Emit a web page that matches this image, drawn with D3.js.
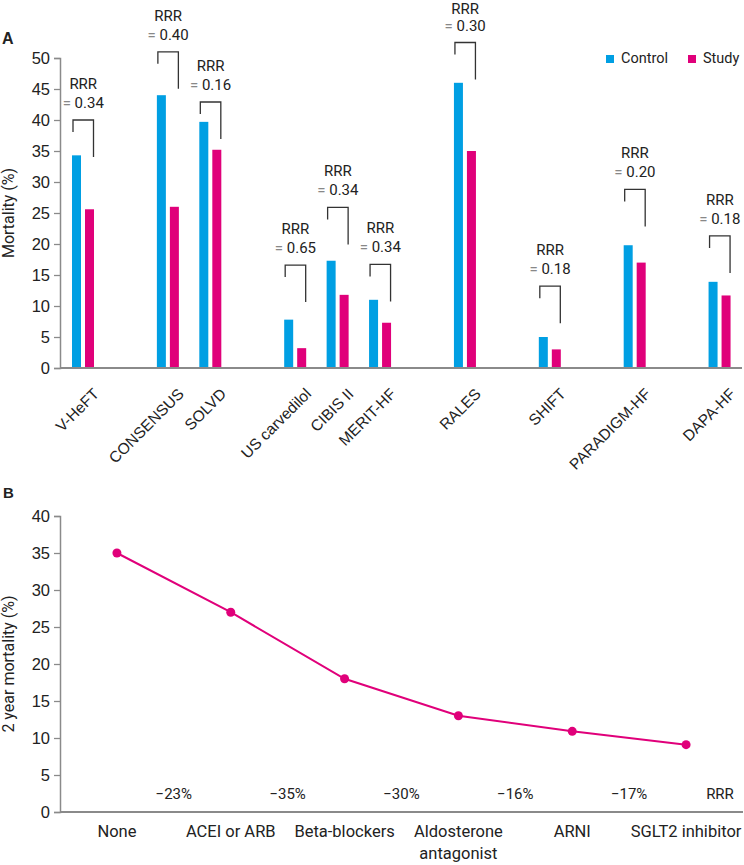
<!DOCTYPE html>
<html>
<head>
<meta charset="utf-8">
<script src="https://cdn.jsdelivr.net/npm/d3@7"></script>
<style>
  html, body { margin: 0; padding: 0; background: #fff; }
  svg { display: block; }
  text { font-family: Roboto, "Liberation Sans", sans-serif; fill: #222; }
</style>
</head>
<body>
<svg id="chart" width="744" height="865"></svg>
<script>
// ---------- Panel A data ----------
const trials = ["V-HeFT", "CONSENSUS", "SOLVD", "US carvedilol", "CIBIS II", "MERIT-HF", "RALES", "SHIFT", "PARADIGM-HF", "DAPA-HF"];
const drugClass = ["H-ISDN", "ACEI", "ACEI", "BB", "BB", "BB", "MRA", "If", "ARNI", "SGLT2"];
const controlMortality = [34.3, 44.0, 39.7, 7.8, 17.3, 11.0, 46.0, 5.0, 19.8, 13.9];
const studyMortality = [25.6, 26.0, 35.2, 3.2, 11.8, 7.3, 35.0, 3.0, 17.0, 11.7];
const rrrValues = ["0.34", "0.40", "0.16", "0.65", "0.34", "0.34", "0.30", "0.18", "0.20", "0.18"];
const bracketTop = [40.0, 51.0, 42.9, 16.6, 25.9, 16.7, 52.5, 13.2, 28.8, 21.3];
const seriesNames = ["Control", "Study"];
const yTicksA = [0, 5, 10, 15, 20, 25, 30, 35, 40, 45, 50];

// ---------- Panel B data ----------
const therapies = ["None", "ACEI or ARB", "Beta-blockers", "Aldosterone\nantagonist", "ARNI", "SGLT2 inhibitor"];
const twoYearMortality = [35, 27, 18, 13, 10.9, 9.1];
const stepRRR = ["\u221223%", "\u221235%", "\u221230%", "\u221216%", "\u221217%"];
const yTicksB = [0, 5, 10, 15, 20, 25, 30, 35, 40];

const colors = { Control: "#009FE3", Study: "#E0007A" };
const axisGray = "#8a8a8a";
const svg = d3.select("#chart");

// ================= Panel A =================
const slots = [];
trials.forEach((t, i) => {
  if (i > 0 && drugClass[i] !== drugClass[i - 1]) slots.push("gap" + i);
  slots.push(t);
});
const xA = d3.scaleBand().domain(slots).range([61, 740]).paddingInner(0).paddingOuter(0);
const xS = d3.scaleBand().domain(seriesNames).range([11, 33]).paddingInner(0.3077);
const yA = d3.scaleLinear().domain([0, 50]).range([368, 58]);

const gA = svg.append("g");

// bars
const rows = trials.map((t, i) => ({ t, i, Control: controlMortality[i], Study: studyMortality[i] }));
seriesNames.forEach(s => {
  gA.append("g").selectAll("rect").data(rows).join("rect")
    .attr("x", d => xA(d.t) + xS(s))
    .attr("width", xS.bandwidth())
    .attr("y", d => yA(d[s]))
    .attr("height", d => yA(0) - yA(d[s]))
    .attr("fill", colors[s]);
});

// brackets and RRR labels
rows.forEach(d => {
  const xl = xA(d.t) + xS("Control") + 1;
  const xr = xA(d.t) + xS("Study") + xS.bandwidth() - 0.5;
  const yt = yA(bracketTop[d.i]);
  gA.append("path")
    .attr("d", `M${xl},${yt + 12}V${yt}H${xr}V${yt + 37}`)
    .attr("fill", "none").attr("stroke", "#333").attr("stroke-width", 1.3);
  const cx = (xl + xr) / 2;
  gA.append("text").attr("x", cx).attr("y", Math.max(yt - 35, 10)).attr("text-anchor", "middle")
    .attr("dominant-baseline", "middle").style("font-size", "15px").text("RRR");
  const t2 = gA.append("text").attr("x", cx).attr("y", yt - 16).attr("text-anchor", "middle")
    .attr("dominant-baseline", "middle").style("font-size", "15px");
  t2.append("tspan").style("fill", "#888").text("= ");
  t2.append("tspan").text(rrrValues[d.i]);
});

// y axis A
const yAxisA = gA.append("g").attr("transform", "translate(60,0)")
  .call(d3.axisLeft(yA).tickValues(yTicksA).tickSize(6).tickPadding(4));
yAxisA.select(".domain").attr("stroke", axisGray).attr("stroke-width", 1.5);
yAxisA.selectAll(".tick line").attr("stroke", axisGray).attr("stroke-width", 1.3);
yAxisA.selectAll(".tick text").style("font-family", "'Liberation Sans', Arial, sans-serif")
  .style("font-size", "16.5px").attr("fill", "#222");

// x axis A
const xAxisA = gA.append("g").attr("transform", `translate(0,${yA(0)})`);
xAxisA.append("line").attr("x1", 60).attr("x2", 742).attr("stroke", axisGray).attr("stroke-width", 1.8);
rows.forEach(d => {
  const cx = xA(d.t) + 22 + 9;
  gA.append("text")
    .attr("transform", `translate(${cx},${yA(0) + 19}) rotate(-45)`)
    .attr("text-anchor", "end").attr("dominant-baseline", "hanging")
    .style("font-family", "'Liberation Sans', Arial, sans-serif")
    .style("font-size", "15.5px").text(d.t);
});

// y label A
gA.append("text").attr("transform", `translate(10,${yA(25)}) rotate(-90)`)
  .attr("text-anchor", "middle").attr("dominant-baseline", "middle")
  .style("font-size", "16px").text("Mortality (%)");

// panel label A
svg.append("text").attr("x", 2).attr("y", 44).style("font-weight", "bold")
  .style("font-family", "'Liberation Sans', Arial, sans-serif").style("font-size", "16px").text("A");

// legend
const legendX = [606, 688];
seriesNames.forEach((s, i) => {
  svg.append("rect").attr("x", legendX[i]).attr("y", 55).attr("width", 8).attr("height", 8).attr("fill", colors[s]);
  svg.append("text").attr("x", legendX[i] + 15).attr("y", 59).attr("dominant-baseline", "middle")
    .style("font-size", "14.5px").text(s);
});

// ================= Panel B =================
const xB = d3.scaleBand().domain(therapies).range([60, 743]).padding(0);
const yB = d3.scaleLinear().domain([0, 40]).range([812, 516]);
const gB = svg.append("g");
const cxB = t => xB(t) + xB.bandwidth() / 2;

const yAxisB = gB.append("g").attr("transform", "translate(60,0)")
  .call(d3.axisLeft(yB).tickValues(yTicksB).tickSize(6).tickPadding(4));
yAxisB.select(".domain").attr("stroke", axisGray).attr("stroke-width", 1.5);
yAxisB.selectAll(".tick line").attr("stroke", axisGray).attr("stroke-width", 1.3);
yAxisB.selectAll(".tick text").style("font-family", "'Liberation Sans', Arial, sans-serif")
  .style("font-size", "16.5px").attr("fill", "#222");

gB.append("line").attr("x1", 60).attr("x2", 743).attr("y1", yB(0)).attr("y2", yB(0))
  .attr("stroke", axisGray).attr("stroke-width", 1.8);

// x labels B
therapies.forEach(t => {
  const lines = t.split("\n");
  const tx = gB.append("text").attr("x", cxB(t)).attr("y", 837).attr("text-anchor", "middle")
    .style("font-size", "16.5px");
  lines.forEach((ln, k) => tx.append("tspan").attr("x", cxB(t)).attr("dy", k === 0 ? 0 : 22).text(ln));
});

// line
const pts = therapies.map((t, i) => [cxB(t), yB(twoYearMortality[i])]);
gB.append("path").attr("d", d3.line()(pts)).attr("fill", "none")
  .attr("stroke", colors.Study).attr("stroke-width", 2);
gB.selectAll("circle.pt").data(pts).join("circle").attr("class", "pt")
  .attr("cx", d => d[0]).attr("cy", d => d[1]).attr("r", 4.5).attr("fill", colors.Study);

// RRR step labels
stepRRR.forEach((s, i) => {
  const mx = (cxB(therapies[i]) + cxB(therapies[i + 1])) / 2;
  gB.append("text").attr("x", mx).attr("y", 795).attr("text-anchor", "middle")
    .attr("dominant-baseline", "middle").style("font-size", "15px").text(s);
});
gB.append("text").attr("x", 720).attr("y", 795).attr("text-anchor", "middle")
  .attr("dominant-baseline", "middle").style("font-size", "15px").text("RRR");

// y label B
gB.append("text").attr("transform", `translate(10,${yB(20)}) rotate(-90)`)
  .attr("text-anchor", "middle").attr("dominant-baseline", "middle")
  .style("font-size", "16px").text("2 year mortality (%)");

svg.append("text").attr("x", 3).attr("y", 498).style("font-weight", "bold")
  .style("font-family", "'Liberation Sans', Arial, sans-serif").style("font-size", "15px").text("B");
</script>
</body>
</html>
